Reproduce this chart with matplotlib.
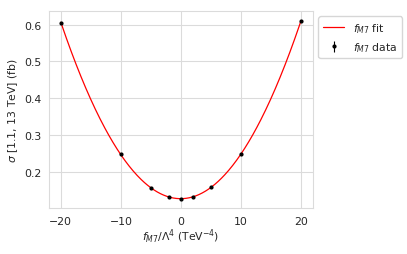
import numpy as np
import matplotlib
matplotlib.use("Agg")
import matplotlib.pyplot as plt
import seaborn as sns

sns.set_style("whitegrid", {"grid.color": ".86", "axes.edgecolor": ".86"})

# coupling values (TeV^-4) and cross sections (fb)
f_m7 = np.array([-20, -10, -5, -2, 0, 2, 5, 10, 20])
xsec = np.array([0.606, 0.247, 0.156, 0.131, 0.126, 0.131, 0.157, 0.247, 0.611])
xsec_err = np.array([0.002, 0.001, 0.001, 0.001, 0.001, 0.001, 0.001, 0.001, 0.002])

# quadratic fit
coef = np.polyfit(f_m7, xsec, 2)
x_fit = np.linspace(f_m7.min(), f_m7.max(), 300)
y_fit = np.polyval(coef, x_fit)

fs = 7.8
fig = plt.figure(figsize=(4.07, 2.55), dpi=100)
ax = fig.add_axes([0.120, 0.180, 0.649, 0.773])

ax.plot(x_fit, y_fit, color="red", lw=0.9, label=r"$f_{M7}$ fit")
ax.errorbar(f_m7, xsec, yerr=xsec_err, fmt="o", color="black", ms=2,
            elinewidth=0.8, label=r"$f_{M7}$ data", zorder=3)

ax.set_xlabel(r"$f_{M7}/\Lambda^4$ (TeV$^{-4}$)", fontsize=fs, labelpad=1)
ax.set_ylabel(r"$\sigma$ [1.1, 13 TeV] (fb)", fontsize=fs, labelpad=3)
ax.tick_params(labelsize=fs, pad=2)
ax.set_yticks([0.2, 0.3, 0.4, 0.5, 0.6])
ax.set_xticks([-20, -10, 0, 10, 20])

ax.legend(loc="upper left", bbox_to_anchor=(1.0, 1.0), fontsize=fs,
          frameon=True, borderpad=0.4, handlelength=2.0)

fig.savefig("out.png", dpi=100)
